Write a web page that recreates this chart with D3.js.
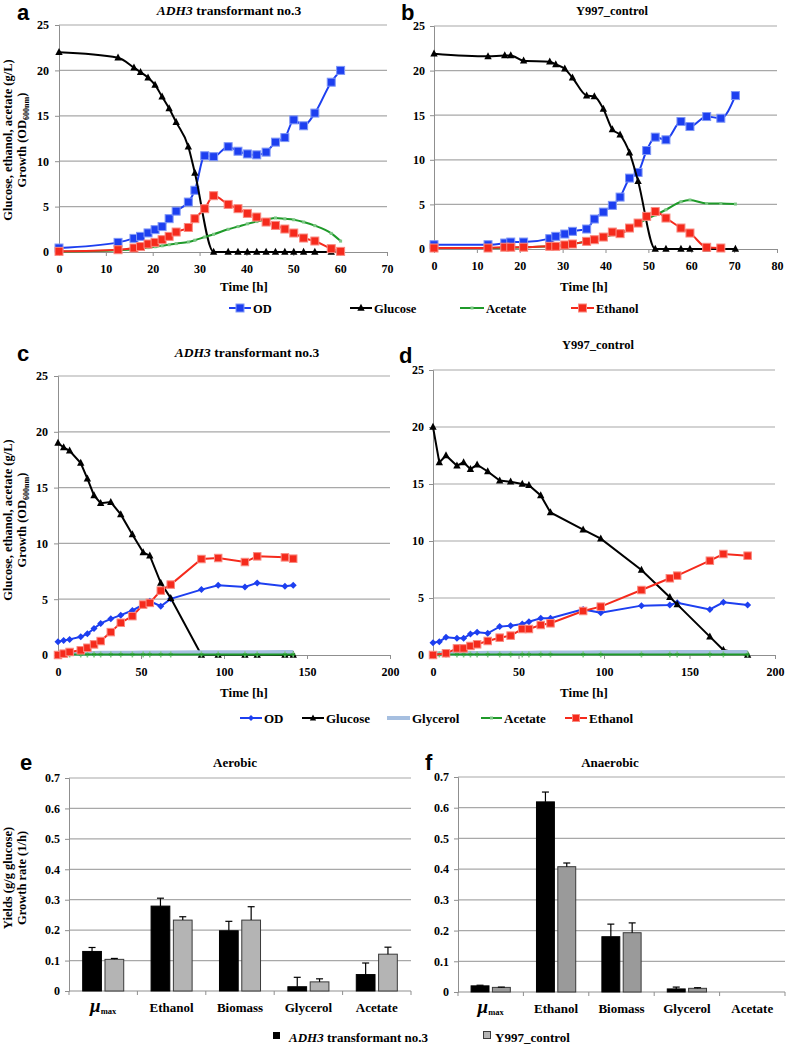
<!DOCTYPE html>
<html><head><meta charset="utf-8">
<script src="https://cdn.jsdelivr.net/npm/d3@7"></script>
<style>body{margin:0;background:#fff}svg{display:block}
.sf{font-family:"Liberation Serif","Times New Roman","DejaVu Serif",serif;font-weight:bold}
.ss{font-family:"Liberation Sans",Arial,"DejaVu Sans",sans-serif;font-weight:bold}
</style>
</head><body>
<svg id="chart" width="787" height="1046"></svg>
<script>
// ---------- DATA ----------
// Panel a: ADH3 transformant no.3 (aerobic)
const aTime = [0,12.6,16,17.4,19,20.5,22,23.5,25,27.6,29,31.1,33,36.1,38.2,40.2,42.2,44.2,46.2,48.2,50.1,52.2,54.6,58.1,60.1];
const aOD = [0.44,1.06,1.5,1.72,2.1,2.46,2.8,3.67,4.5,5.5,6.8,10.6,10.5,11.6,11.1,10.8,10.7,11.0,12.1,12.6,14.55,13.9,15.3,18.7,20.0];
const aGlucose = [22.0,21.4,20.3,19.8,19.2,18.4,17.1,15.8,14.3,11.6,8.7,null,0,0,0,0,0,0,0,0,0,0,0,0,0];
const aAcetate = [0.05,0.2,0.3,0.38,0.48,0.58,0.68,0.8,0.92,1.1,1.3,1.65,1.95,2.5,2.8,3.1,3.35,3.55,3.75,3.65,3.55,3.3,2.9,2.05,1.2];
const aEthanol = [0.07,0.25,0.44,0.6,0.88,1.06,1.36,1.72,2.2,2.7,3.67,4.77,6.2,5.24,4.77,4.25,3.85,3.3,2.93,2.53,2.09,1.54,1.21,0.37,0.07];

// Panel b: Y997_control (aerobic)
const bTime = [0,12.6,16.5,17.9,20.9,27.0,28.4,30.5,32.3,35.6,37.4,39.5,41.6,43.4,45.6,47.6,49.6,51.6,54.1,57.6,59.7,63.6,66.9,70.3];
const bOD = [0.48,0.48,0.67,0.78,0.78,1.16,1.42,1.68,1.98,2.24,3.36,4.14,4.89,5.82,7.95,8.58,11.04,12.54,12.24,14.29,13.73,14.85,14.66,17.2];
const bGlucose = [21.9,21.6,21.7,21.7,21.1,21.0,20.7,20.2,19.2,17.2,17.1,15.7,13.4,12.8,10.8,7.6,null,0,0,0,0,0,0,0];
const bAcetate = [0.1,0.1,0.15,0.15,0.2,0.3,0.35,0.45,0.55,0.85,1.0,1.3,1.6,1.72,2.3,2.85,3.35,3.8,4.4,5.3,5.5,5.1,5.1,5.04];
const bEthanol = [0.11,0.11,0.2,0.2,0.2,0.3,0.3,0.45,0.56,0.86,1.04,1.34,1.9,1.72,2.35,2.91,3.66,4.2,3.47,2.35,1.79,0.19,0.11,null];

// Panel c: ADH3 transformant no.3 (anaerobic)
const cTime = [0,3.4,7.0,13.7,17.7,21.7,25.7,31.8,37.8,44.8,51.3,55.3,61.9,67.9,86.4,96.5,112.6,120,136.7,141.7];
const cOD = [1.19,1.31,1.4,1.64,1.9,2.38,2.83,3.24,3.57,3.99,4.52,4.82,4.37,5.03,5.86,6.25,6.1,6.46,6.16,6.25];
const cGlucose = [19.0,18.6,18.3,17.2,15.8,14.3,13.6,13.7,12.6,10.8,9.2,8.9,6.46,5.1,0,0,0,0,0,0];
const cGlycerol = [0.12,0.12,0.13,0.13,0.14,0.14,0.15,0.15,0.16,0.16,0.17,0.17,0.18,0.18,0.2,0.2,0.21,0.21,0.22,0.22];
const cAcetate = [0.04,0.04,0.05,0.05,0.05,0.05,0.05,0.05,0.05,0.05,0.05,0.05,0.05,0.05,0.05,0.05,0.05,0.05,0.05,0.05];
const cEthanol = [0,0.12,0.27,0.42,0.65,0.95,1.25,2.05,2.89,3.48,4.52,4.67,5.77,6.31,8.6,8.69,8.33,8.84,8.75,8.63];

// Panel d: Y997_control (anaerobic)
const dTime = [0,3.7,7.6,14.0,17.9,21.9,25.8,32.0,39.0,45.4,52.2,56.1,63.0,68.7,87.8,98.1,121.9,138.5,142.8,161.9,169.8,184];
const dOD = [1.08,1.17,1.55,1.46,1.46,1.84,1.99,1.9,2.49,2.57,2.72,2.92,3.22,3.22,4.0,3.71,4.33,4.39,4.59,4.0,4.62,4.39];
const dGlucose = [20.0,16.9,17.5,16.6,16.9,16.3,16.7,16.1,15.3,15.2,15.0,14.9,14.0,12.5,11.0,10.2,7.46,5.06,4.44,1.61,0.44,0];
const dGlycerol = [0.12,0.12,0.13,0.13,0.13,0.14,0.14,0.15,0.15,0.15,0.16,0.16,0.17,0.17,0.18,0.19,0.2,0.21,0.21,0.22,0.22,0.22];
const dAcetate = [0.05,0.05,0.05,0.05,0.05,0.05,0.05,0.05,0.05,0.05,0.05,0.05,0.05,0.05,0.05,0.05,0.05,0.05,0.05,0.05,0.05,0.05];
const dEthanol = [0,null,0.15,0.58,0.58,0.79,0.94,1.23,1.52,1.7,2.28,2.28,2.63,2.78,3.86,4.24,5.7,6.73,6.96,8.27,8.86,8.71];

const lineYTicks = [0,5,10,15,20,25];
const abXTicksA = [0,10,20,30,40,50,60,70];
const abXTicksB = [0,10,20,30,40,50,60,70,80];
const cdXTicks = [0,50,100,150,200];

// Panels e, f: yields
const yieldCategories = ["μmax","Ethanol","Biomass","Glycerol","Acetate"];
const eADH3 = [0.130,0.279,0.198,0.014,0.054];
const eADH3Err = [0.013,0.026,0.031,0.031,0.038];
const eY997 = [0.104,0.233,0.233,0.030,0.121];
const eY997Err = [0.003,0.011,0.044,0.010,0.023];
const fADH3 = [0.020,0.619,0.180,0.010,0];
const fADH3Err = [0.002,0.032,0.041,0.006,0];
const fY997 = [0.015,0.408,0.193,0.012,0];
const fY997Err = [0.001,0.012,0.032,0.002,0];
const barYTicks = [0,0.1,0.2,0.3,0.4,0.5,0.6,0.7];

// ---------- DRAWING ----------
const svg = d3.select("#chart");
svg.append("rect").attr("width",787).attr("height",1046).attr("fill","#fff");
const COL = {od:"#1d3ff0", odL:"#7f97f7", glu:"#000", ace:"#1f9a2a", aceL:"#7cc784", eth:"#f52a1c", ethL:"#fa8a80", gly:"#a6bfe0"};
const GRID = "#a8a8a8";

function sf(sel, fs){ return sel.attr("class","sf").style("font-size",fs+"px"); }

function styleAxis(sel, fs){
  sel.attr("font-family",null).attr("font-size",null);
  sel.select(".domain").attr("stroke","#8f8f8f");
  sel.selectAll(".tick line").attr("stroke","#8f8f8f");
  sel.selectAll(".tick text").attr("class","sf").style("font-size",(fs||12)+"px").attr("fill","#000");
}

function marker(g, type, cx, cy, color, light, s){
  if(type==="square"){
    g.append("rect").attr("x",cx-s/2).attr("y",cy-s/2).attr("width",s).attr("height",s)
      .attr("fill",color).attr("stroke",light).attr("stroke-width",1);
  } else if(type==="triangle"){
    const h = s, w = s*1.05;
    g.append("path").attr("d",`M${cx},${cy-h*0.6}L${cx+w/2},${cy+h*0.4}L${cx-w/2},${cy+h*0.4}Z`).attr("fill",color);
  } else if(type==="diamond"){
    const r = s/2;
    g.append("path").attr("d",`M${cx},${cy-r}L${cx+r},${cy}L${cx},${cy+r}L${cx-r},${cy}Z`).attr("fill",color);
  } else if(type==="dash"){
    g.append("rect").attr("x",cx-1.5).attr("y",cy-1.5).attr("width",3).attr("height",3).attr("fill",light);
  } else if(type==="tick"){
    g.append("rect").attr("x",cx-0.8).attr("y",cy-3).attr("width",1.6).attr("height",6).attr("fill",light);
    g.append("rect").attr("x",cx-2).attr("y",cy-1).attr("width",4).attr("height",2).attr("fill",color);
  }
}

function linePanel(o){
  const g = svg.append("g");
  const x = d3.scaleLinear().domain(o.xDomain).range([o.x0,o.x1]);
  const y = d3.scaleLinear().domain([0,25]).range([o.y0,o.y1]);
  g.append("g").selectAll("line").data(lineYTicks.filter(d=>d>0)).join("line")
    .attr("x1",o.x0).attr("x2",o.x1).attr("y1",d=>y(d)).attr("y2",d=>y(d))
    .attr("stroke",GRID).attr("stroke-width",1.2);
  const ya = g.append("g").attr("transform",`translate(${o.x0},0)`)
    .call(d3.axisLeft(y).tickValues(lineYTicks).tickSize(4).tickPadding(o.yPad||6).tickFormat(d3.format("d")));
  styleAxis(ya);
  const xa = g.append("g").attr("transform",`translate(0,${o.y0})`)
    .call(d3.axisBottom(x).tickValues(o.xTicks).tickSize(4).tickPadding(8).tickFormat(d3.format("d")));
  styleAxis(xa);
  o.series.forEach(s=>{
    const pts = o.t.map((t,i)=>[t,s.v[i]]).filter(p=>p[1]!=null);
    g.append("path").datum(pts)
      .attr("d",d3.line().x(p=>x(p[0])).y(p=>y(p[1])).curve(s.curve||d3.curveLinear))
      .attr("fill","none").attr("stroke",s.color).attr("stroke-width",s.width||2);
    if(s.marker){
      const mg = g.append("g");
      pts.forEach(p=>marker(mg,s.marker,x(p[0]),y(p[1]),s.color,s.light,s.size));
    }
  });
  sf(g.append("text").attr("x",o.timeX).attr("y",o.timeY).attr("text-anchor","middle"),13).text("Time [h]");
  return g;
}

function title(x,y,italicPart,rest,fs){
  const t = sf(svg.append("text").attr("x",x).attr("y",y).attr("text-anchor","middle"),fs||12.5);
  if(italicPart) t.append("tspan").attr("font-style","italic").text(italicPart);
  t.append("tspan").text(rest);
}
function letter(x,y,s){
  svg.append("text").attr("x",x).attr("y",y).attr("class","ss").style("font-size","22px").text(s);
}
function yTitle(cx,cy,l1,l2,sub){
  const t1 = sf(svg.append("text").attr("transform",`translate(${cx},${cy}) rotate(-90)`)
    .attr("text-anchor","middle"),12.5);
  t1.append("tspan").attr("x",0).attr("y",0).text(l1);
  t1.append("tspan").attr("x",0).attr("y",14).text(l2);
  if(sub){
    t1.append("tspan").style("font-size","8px").attr("dy",3).text(sub);
    t1.append("tspan").attr("dy",-3).text(")");
  }
}

const smooth = d3.curveMonotoneX;
linePanel({x0:59,x1:387,y0:252,y1:25,xDomain:[0,70],xTicks:abXTicksA,t:aTime,timeX:244,timeY:291,
  series:[
    {v:aOD,color:COL.od,light:COL.odL,marker:"square",size:8,curve:smooth},
    {v:aGlucose,color:COL.glu,light:"#555",marker:"triangle",size:7,curve:smooth},
    {v:aAcetate,color:COL.ace,light:COL.aceL,marker:"dash",size:3,curve:smooth},
    {v:aEthanol,color:COL.eth,light:COL.ethL,marker:"square",size:8,curve:smooth}
  ]});
linePanel({x0:434,x1:777,y0:249,y1:26,xDomain:[0,80],xTicks:abXTicksB,t:bTime,timeX:584,timeY:291,yPad:5,
  series:[
    {v:bOD,color:COL.od,light:COL.odL,marker:"square",size:8,curve:smooth},
    {v:bGlucose,color:COL.glu,light:"#555",marker:"triangle",size:7,curve:smooth},
    {v:bAcetate,color:COL.ace,light:COL.aceL,marker:"dash",size:3,curve:smooth},
    {v:bEthanol,color:COL.eth,light:COL.ethL,marker:"square",size:8,curve:smooth}
  ]});
linePanel({x0:58,x1:390,y0:655,y1:376,xDomain:[0,200],xTicks:cdXTicks,t:cTime,timeX:244,timeY:697,
  series:[
    {v:cOD,color:COL.od,light:COL.odL,marker:"diamond",size:7},
    {v:cGlucose,color:COL.glu,light:"#555",marker:"triangle",size:7},
    {v:cGlycerol,color:COL.gly,light:COL.gly,width:5},
    {v:cAcetate,color:COL.ace,light:COL.aceL,marker:"tick",size:3},
    {v:cEthanol,color:COL.eth,light:COL.ethL,marker:"square",size:7.5}
  ]});
linePanel({x0:433,x1:775,y0:655,y1:370,xDomain:[0,200],xTicks:cdXTicks,t:dTime,timeX:584,timeY:697,yPad:5,
  series:[
    {v:dOD,color:COL.od,light:COL.odL,marker:"diamond",size:7},
    {v:dGlucose,color:COL.glu,light:"#555",marker:"triangle",size:7},
    {v:dGlycerol,color:COL.gly,light:COL.gly,width:5},
    {v:dAcetate,color:COL.ace,light:COL.aceL,marker:"tick",size:3},
    {v:dEthanol,color:COL.eth,light:COL.ethL,marker:"square",size:7.5}
  ]});

title(229,15,"ADH3"," transformant no.3",13.5);
title(612,15,null,"Y997_control",12.5);
title(247,357,"ADH3"," transformant no.3",13.5);
title(598,349,null,"Y997_control",12.5);
letter(17,20,"a"); letter(401,20,"b"); letter(17,361,"c"); letter(399,363,"d");
yTitle(12,140,"Glucose, ethanol, acetate (g/L)","Growth (OD","600nm");
yTitle(12,520,"Glucose, ethanol, acetate (g/L)","Growth (OD","600nm");

function legendItem(g, x1, x2, y, color, light, mtype, msize, width, label, fs){
  g.append("line").attr("x1",x1).attr("x2",x2).attr("y1",y).attr("y2",y).attr("stroke",color).attr("stroke-width",width||2);
  if(mtype) marker(g, mtype, (x1+x2)/2, y, color, light, msize);
  sf(g.append("text").attr("x",x2+2).attr("y",y+4.5),fs).text(label);
}
const lg1 = svg.append("g");
legendItem(lg1,229,251,308,COL.od,COL.odL,"square",8,2,"OD",12.5);
legendItem(lg1,350,372,308,COL.glu,"#555","triangle",7,2,"Glucose",12.5);
legendItem(lg1,460,484,308,COL.ace,COL.aceL,"dash",3,2,"Acetate",12.5);
legendItem(lg1,571,594,308,COL.eth,COL.ethL,"square",8,2,"Ethanol",12.5);
const lg2 = svg.append("g");
legendItem(lg2,240,262,718,COL.od,COL.odL,"diamond",6,2,"OD",13);
legendItem(lg2,302,324,718,COL.glu,"#555","triangle",6,2,"Glucose",13);
legendItem(lg2,387,410,718,COL.gly,COL.gly,null,0,4,"Glycerol",13);
legendItem(lg2,481,502,718,COL.ace,COL.aceL,"dash",3,2,"Acetate",13);
legendItem(lg2,565,587,718,COL.eth,COL.ethL,"square",7,2,"Ethanol",13);

function barPanel(o){
  const g = svg.append("g");
  const x = d3.scaleBand().domain(yieldCategories).range([o.x0,o.x1]);
  const x1 = d3.scaleBand().domain([0,1]).range([x.bandwidth()*0.2,x.bandwidth()*0.8]).paddingInner(0.16);
  const y = d3.scaleLinear().domain([0,0.7]).range([o.y0,o.y1]);
  g.append("g").selectAll("line").data(barYTicks.filter(d=>d>0)).join("line")
    .attr("x1",o.x0).attr("x2",o.x1).attr("y1",d=>y(d)).attr("y2",d=>y(d))
    .attr("stroke",GRID).attr("stroke-width",1.2);
  const ya = g.append("g").attr("transform",`translate(${o.x0},0)`)
    .call(d3.axisLeft(y).tickValues(barYTicks).tickSize(4).tickPadding(5).tickFormat(d=>d===0?"0":d3.format(".1f")(d)));
  styleAxis(ya);
  g.append("line").attr("x1",o.x0).attr("x2",o.x1).attr("y1",o.y0).attr("y2",o.y0).attr("stroke","#8f8f8f");
  const bounds = yieldCategories.map(c=>x(c)).concat([o.x1]);
  g.selectAll(".bt").data(bounds).join("line").attr("x1",d=>d).attr("x2",d=>d)
    .attr("y1",o.y0).attr("y2",o.y0+4).attr("stroke","#8f8f8f");
  const sets = [{v:o.a,e:o.ae,fill:"#000",stroke:"#000"},{v:o.b,e:o.be,fill:o.grey,stroke:"#3a3a3a"}];
  sets.forEach((s,si)=>{
    yieldCategories.forEach((c,i)=>{
      const val = s.v[i];
      if(!val) return;
      const bx = x(c)+x1(si), bw = x1.bandwidth();
      g.append("rect").attr("x",bx).attr("y",y(val)).attr("width",bw).attr("height",y(0)-y(val))
        .attr("fill",s.fill).attr("stroke",s.stroke).attr("stroke-width",1);
      if(s.e[i]>0){
        const cx = bx+bw/2, top = y(val+s.e[i]);
        g.append("line").attr("x1",cx).attr("x2",cx).attr("y1",y(val)).attr("y2",top).attr("stroke","#000").attr("stroke-width",1.2);
        g.append("line").attr("x1",cx-3.5).attr("x2",cx+3.5).attr("y1",top).attr("y2",top).attr("stroke","#000").attr("stroke-width",1.2);
      }
    });
  });
  yieldCategories.forEach(c=>{
    const t = sf(g.append("text").attr("x",x(c)+x.bandwidth()/2).attr("y",o.y0+21).attr("text-anchor","middle"),13);
    if(c==="μmax"){
      t.append("tspan").style("font-size","19px").attr("font-style","italic").text("μ");
      t.append("tspan").style("font-size","8.5px").attr("dy",2).text("max");
    } else t.text(c);
  });
  sf(svg.append("text").attr("x",o.titleX).attr("y",767).attr("text-anchor","middle"),13).text(o.title);
}
barPanel({x0:69,x1:411,y0:991,y1:778,a:eADH3,ae:eADH3Err,b:eY997,be:eY997Err,grey:"#b4b4b4",title:"Aerobic",titleX:235});
barPanel({x0:458,x1:785,y0:992,y1:777,a:fADH3,ae:fADH3Err,b:fY997,be:fY997Err,grey:"#9a9a9a",title:"Anaerobic",titleX:610});
letter(20,770,"e"); letter(425,770,"f");
yTitle(12,878,"Yields (g/g glucose)","Growth rate (1/h)",null);

svg.append("rect").attr("x",273).attr("y",1032).attr("width",7).attr("height",7).attr("fill","#000");
const bl = sf(svg.append("text").attr("x",289).attr("y",1042),13);
bl.append("tspan").attr("font-style","italic").text("ADH3");
bl.append("tspan").text(" transformant no.3");
svg.append("rect").attr("x",483.5).attr("y",1031.5).attr("width",7).attr("height",7).attr("fill","#b4b4b4").attr("stroke","#3a3a3a");
sf(svg.append("text").attr("x",495).attr("y",1042),13).text("Y997_control");
</script>
</body></html>
